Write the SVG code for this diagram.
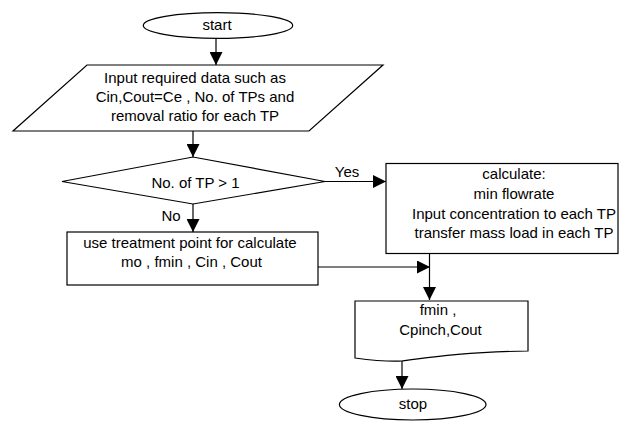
<svg xmlns="http://www.w3.org/2000/svg" width="629" height="421" viewBox="0 0 629 421">
<defs>
<style>
.s{fill:#fff;stroke:#000;stroke-width:1.2}
.l{fill:none;stroke:#000;stroke-width:1.2}
text{font-family:"Liberation Sans",Arial,sans-serif;font-size:15px;fill:#000;text-anchor:middle}
</style>
<marker id="a" markerWidth="13" markerHeight="13" refX="13" refY="6.5" orient="auto" markerUnits="userSpaceOnUse">
<path d="M0,0 L13,6.5 L0,13 Z" fill="#000"/>
</marker>
</defs>
<rect width="629" height="421" fill="#fff"/>
<g id="connectors">
<line class="l" x1="216" y1="38.5" x2="216" y2="65" marker-end="url(#a)"/>
<line class="l" x1="193" y1="131" x2="193" y2="157" marker-end="url(#a)"/>
<line class="l" x1="325" y1="181.5" x2="386" y2="181.5" marker-end="url(#a)"/>
<text x="347" y="177">Yes</text>
<line class="l" x1="193" y1="204" x2="193" y2="232" marker-end="url(#a)"/>
<text x="171" y="221">No</text>
<line class="l" x1="318" y1="267" x2="430" y2="267" marker-end="url(#a)"/>
<line class="l" x1="429.5" y1="253" x2="429.5" y2="300" marker-end="url(#a)"/>
<line class="l" x1="402" y1="361" x2="402" y2="389" marker-end="url(#a)"/>
</g>
<g id="start">
<ellipse class="s" cx="218" cy="25.5" rx="74.7" ry="12.8"/>
<text x="217" y="29.5">start</text>
</g>
<g id="input">
<polygon class="s" points="87,65 383,65 309,131 13,131"/>
<text x="195" y="83">Input required data such as</text>
<text x="195" y="101.5">Cin,Cout=Ce , No. of TPs and</text>
<text x="195" y="120.5">removal ratio for each TP</text>
</g>
<g id="decision">
<polygon class="s" points="62,181.5 193,157 325,181.5 193,204"/>
<text x="195.5" y="187.5">No. of TP &gt; 1</text>
</g>
<g id="calc">
<rect class="s" x="386" y="163.5" width="232" height="90"/>
<text x="514" y="179">calculate:</text>
<text x="514" y="199">min flowrate</text>
<text x="514" y="218.5">Input concentration to each TP</text>
<text x="514" y="237.5">transfer mass load in each TP</text>
</g>
<g id="single">
<rect class="s" x="67" y="232" width="251" height="53"/>
<text x="190" y="247.5">use treatment point for calculate</text>
<text x="191.5" y="267">mo , fmin , Cin , Cout</text>
</g>
<g id="output">
<path class="s" d="M355,301 L528,301 L528,351 C470,352 440,356 402,361 C385,362 370,360 355,358 Z"/>
<text x="438" y="315">fmin ,</text>
<text x="440.5" y="335">Cpinch,Cout</text>
</g>
<g id="stop">
<ellipse class="s" cx="412.7" cy="404.5" rx="73.3" ry="15.5"/>
<text x="413" y="408.5">stop</text>
</g>
</svg>
